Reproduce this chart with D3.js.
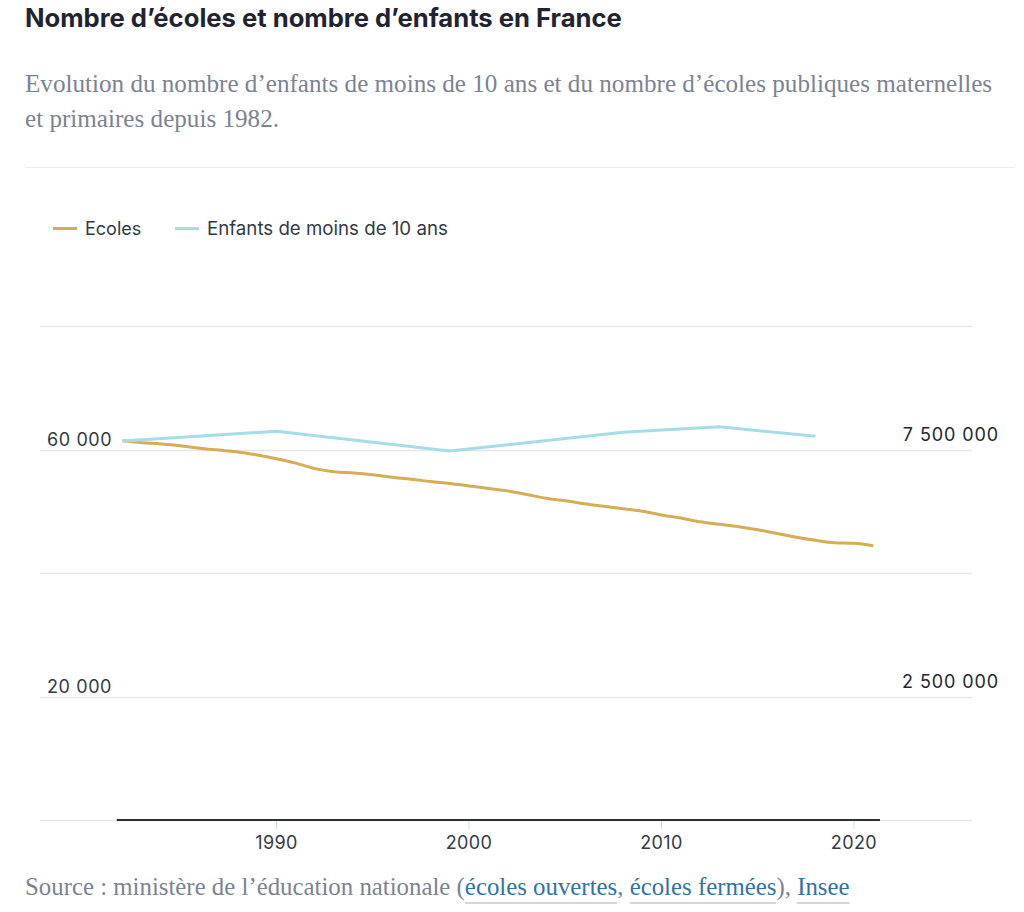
<!DOCTYPE html>
<html>
<head>
<meta charset="utf-8">
<script src="https://cdn.jsdelivr.net/npm/d3@7"></script>
<style>
  html, body { margin: 0; padding: 0; background: #fff; }
  svg { display: block; }
</style>
</head>
<body>
<svg id="chart" width="1024" height="912"></svg>
<script>
// ---- data ----
const ecolesYears = d3.range(1982, 2022);
const ecolesValues = [
  61400, 61100, 60900, 60600, 60200, 59900, 59600, 59100, 58500, 57800,
  56900, 56400, 56200, 55900, 55500, 55200, 54800, 54500, 54100, 53700,
  53300, 52700, 52100, 51700, 51200, 50800, 50400, 50000, 49400, 48900,
  48300, 47900, 47500, 47000, 46400, 45800, 45300, 44900, 44800, 44400
];
const enfantsYears = [1982, 1990, 1999, 2008, 2013, 2018];
const enfantsValues = [7670000, 7870000, 7470000, 7850000, 7960000, 7770000];
const xTickYears = [1990, 2000, 2010, 2020];
const leftTicks = [20000, 40000, 60000, 80000];
const leftTickLabels = ["20 000", "", "60 000", ""];
const rightTicks = [2500000, 5000000, 7500000, 10000000];
const rightTickLabels = ["2 500 000", "", "7 500 000", ""];
const seriesNames = ["Ecoles", "Enfants de moins de 10 ans"];
const seriesColors = ["#d6ad56", "#a6dce7"];

const svg = d3.select("#chart");
const sans = "Inter, Roboto, 'Noto Sans', sans-serif";
const serif = "'Liberation Serif', 'DejaVu Serif', serif";

function fitText(sel, width) {
  const w = sel.node().getComputedTextLength();
  const fs = parseFloat(sel.attr("font-size"));
  sel.attr("font-size", fs * width / w);
}

// ---- header ----
const title = svg.append("text").attr("x", 25).attr("y", 27)
  .attr("font-family", sans).attr("font-weight", 700).attr("font-size", 22)
  .attr("fill", "#1f2430")
  .text("Nombre d’écoles et nombre d’enfants en France");
fitText(title, 597);

const sub1 = svg.append("text").attr("x", 25).attr("y", 92)
  .attr("font-family", serif).attr("font-size", 20).attr("fill", "#7b8392")
  .text("Evolution du nombre d’enfants de moins de 10 ans et du nombre d’écoles publiques maternelles");
fitText(sub1, 968);
svg.append("text").attr("x", 25).attr("y", 127)
  .attr("font-family", serif).attr("font-size", sub1.attr("font-size")).attr("fill", "#7b8392")
  .text("et primaires depuis 1982.");

svg.append("line").attr("x1", 25).attr("x2", 1015).attr("y1", 167.5).attr("y2", 167.5)
  .attr("stroke", "#ececec").attr("stroke-width", 1);

// ---- legend ----
const legendX = [[53, 85], [175, 207]];
const legendW = [58, 241];
seriesNames.forEach((n, i) => {
  svg.append("line").attr("x1", legendX[i][0]).attr("x2", legendX[i][0] + 24)
    .attr("y1", 228.5).attr("y2", 228.5)
    .attr("stroke", seriesColors[i]).attr("stroke-width", 3);
  const t = svg.append("text").attr("x", legendX[i][1]).attr("y", 228.5)
    .attr("dy", "0.35em")
    .attr("font-family", sans).attr("font-size", 18).attr("fill", "#333a45")
    .text(n);
  if (i === 1) fitText(t, legendW[i]);
});

// ---- scales ----
const x = d3.scaleLinear().domain([1982, 2021]).range([122.5, 873.25]);
const yL = d3.scaleLinear().domain([0, 80000]).range([820, 326]);
const yR = d3.scaleLinear().domain([0, 10000000]).range([820, 326]);

// gridlines
const grid = svg.append("g");
[0].concat(leftTicks).forEach(t => {
  grid.append("line").attr("x1", 40).attr("x2", 972)
    .attr("y1", Math.round(yL(t)) + 0.5).attr("y2", Math.round(yL(t)) + 0.5)
    .attr("stroke", "#e6e6e6").attr("stroke-width", 1.5);
});

// left labels
leftTicks.forEach((t, i) => {
  if (!leftTickLabels[i]) return;
  svg.append("text").attr("x", 47).attr("y", yL(t) - 4)
    .attr("font-family", sans).attr("font-size", 18).attr("fill", "#333a45")
    .attr("letter-spacing", "0.6px")
    .text(leftTickLabels[i]);
});
// right labels
rightTicks.forEach((t, i) => {
  if (!rightTickLabels[i]) return;
  svg.append("text").attr("x", 999).attr("y", yR(t) - 9)
    .attr("text-anchor", "end")
    .attr("font-family", sans).attr("font-size", 18).attr("fill", "#222831")
    .attr("letter-spacing", "0.9px")
    .text(rightTickLabels[i]);
});

// x axis
const xAxis = svg.append("g");
xAxis.append("line").attr("x1", x(1981.7)).attr("x2", x(2021.35))
  .attr("y1", 820).attr("y2", 820).attr("stroke", "#2b303a").attr("stroke-width", 2);
xTickYears.forEach(yr => {
  xAxis.append("line").attr("x1", x(yr)).attr("x2", x(yr)).attr("y1", 821).attr("y2", 829)
    .attr("stroke", "#cfdde9").attr("stroke-width", 1);
  xAxis.append("text").attr("x", x(yr)).attr("y", 843).attr("dy", "0.35em")
    .attr("text-anchor", "middle")
    .attr("font-family", sans).attr("font-size", 18).attr("fill", "#333a45")
    .attr("letter-spacing", "0.4px")
    .text(yr);
});

// lines
const ecolesData = ecolesYears.map((y, i) => [y, ecolesValues[i]]);
const enfantsData = enfantsYears.map((y, i) => [y, enfantsValues[i]]);
svg.append("path").datum(ecolesData)
  .attr("fill", "none").attr("stroke", seriesColors[0]).attr("stroke-width", 3)
  .attr("stroke-linejoin", "round")
  .attr("d", d3.line().x(d => x(d[0])).y(d => yL(d[1])).curve(d3.curveMonotoneX));
svg.append("path").datum(enfantsData)
  .attr("fill", "none").attr("stroke", seriesColors[1]).attr("stroke-width", 3)
  .attr("stroke-linejoin", "round")
  .attr("d", d3.line().x(d => x(d[0])).y(d => yR(d[1])));

// ---- source ----
const srcParts = [
  ["Source : ministère de l’éducation nationale (", false],
  ["écoles ouvertes", true],
  [", ", false],
  ["écoles fermées", true],
  ["), ", false],
  ["Insee", true]
];
let sx = 25;
const srcFs = 19;
const srcTexts = [];
srcParts.forEach(([t, link]) => {
  const el = svg.append("text").attr("x", sx).attr("y", 895)
    .attr("font-family", serif).attr("font-size", srcFs)
    .attr("fill", link ? "#2f73a6" : "#7b8392")
    .attr("xml:space", "preserve").style("white-space", "pre")
    .text(t);
  const w = el.node().getComputedTextLength();
  srcTexts.push([el, sx, w, link]);
  sx += w;
});
const totalW = sx - 25;
const k = 825 / totalW;
let sx2 = 25;
srcTexts.forEach(([el, ox, w, link]) => {
  el.attr("font-size", srcFs * k).attr("x", sx2);
  const w2 = el.node().getComputedTextLength();
  if (link) {
    svg.append("line").attr("x1", sx2).attr("x2", sx2 + w2)
      .attr("y1", 903).attr("y2", 903).attr("stroke", "#a9b0bb").attr("stroke-width", 1);
  }
  sx2 += w2;
});
</script>
</body>
</html>
